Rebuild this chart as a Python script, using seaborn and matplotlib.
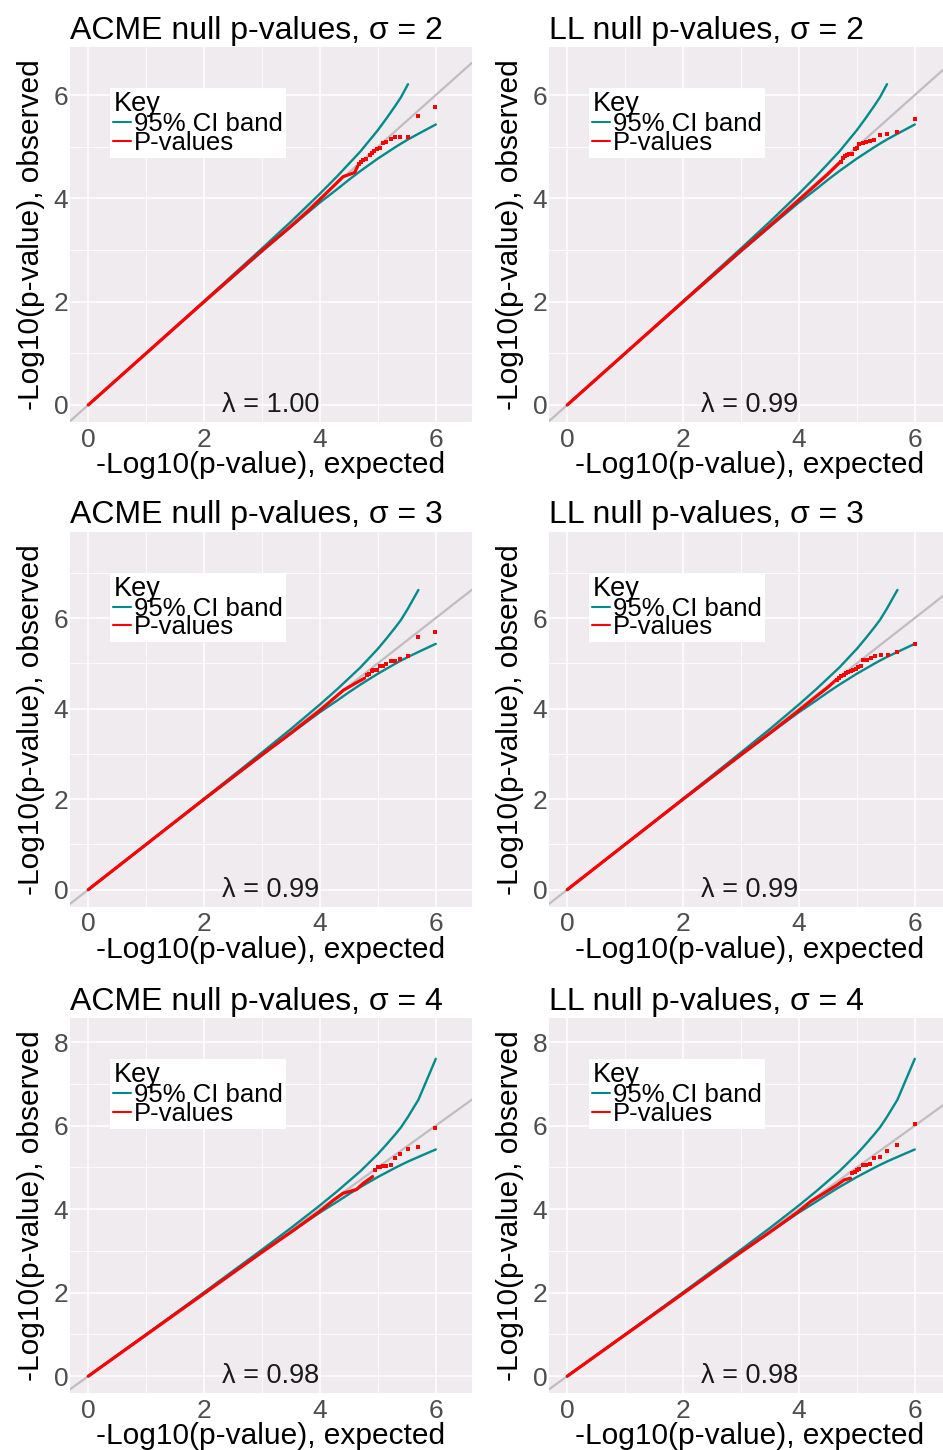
import numpy as np
import pandas as pd
import matplotlib
matplotlib.use("Agg")
import matplotlib.pyplot as plt
import seaborn as sns
from matplotlib.lines import Line2D
from matplotlib.ticker import MultipleLocator

# ---------------- data ----------------
# 95% CI band (expected, upper, lower)
ci_x     = [0.0, 1.0, 2.0, 3.0, 3.5, 4.0, 4.3, 4.5, 4.7, 5.0, 5.15, 5.3, 5.4, 5.52, 5.7, 6.0]
ci_upper = [0.0, 1.0, 2.01, 3.03, 3.55, 4.09, 4.43, 4.67, 4.91, 5.32, 5.55, 5.79, 5.96, 6.21, 6.62, 7.60]
ci_lower = [0.0, 1.0, 1.99, 2.97, 3.45, 3.92, 4.18, 4.36, 4.53, 4.77, 4.88, 4.99, 5.06, 5.14, 5.25, 5.43]
# upper band shown up to this expected value per sigma (rest falls outside the y-range)
ci_upper_end = {2: 5.52, 3: 5.7, 4: 6.0}

# ACME, sigma = 2
acme2_line_x = [0, 1, 2, 3, 3.5, 3.8, 4.0, 4.2, 4.4, 4.6, 4.65]
acme2_line_y = [0, 1, 2, 2.99, 3.46, 3.76, 3.98, 4.2, 4.42, 4.5, 4.62]
acme2_pts_x = [4.67, 4.71, 4.75, 4.80, 4.86, 4.90, 4.94, 4.99, 5.03, 5.09, 5.14, 5.22, 5.29, 5.39, 5.52, 5.69, 5.99]
acme2_pts_y = [4.66, 4.71, 4.74, 4.76, 4.83, 4.87, 4.92, 4.95, 4.98, 5.08, 5.10, 5.14, 5.19, 5.19, 5.19, 5.59, 5.77]
# LL, sigma = 2
ll2_line_x = [0, 1, 2, 3, 3.5, 4.0, 4.3, 4.5, 4.7]
ll2_line_y = [0, 1, 2, 2.99, 3.47, 3.97, 4.27, 4.47, 4.69]
ll2_pts_x = [4.72, 4.76, 4.80, 4.83, 4.87, 4.91, 4.97, 5.00, 5.04, 5.10, 5.15, 5.22, 5.30, 5.40, 5.52, 5.70, 6.00]
ll2_pts_y = [4.71, 4.79, 4.82, 4.84, 4.85, 4.86, 4.95, 4.97, 5.06, 5.08, 5.09, 5.11, 5.12, 5.23, 5.24, 5.28, 5.53]
# ACME, sigma = 3
acme3_line_x = [0, 1, 2, 3, 3.5, 4.0, 4.2, 4.4, 4.6, 4.77]
acme3_line_y = [0, 1, 2, 2.98, 3.46, 3.96, 4.18, 4.4, 4.55, 4.67]
acme3_pts_x = [4.81, 4.84, 4.89, 4.91, 4.95, 4.99, 5.04, 5.09, 5.14, 5.22, 5.29, 5.39, 5.52, 5.69, 5.99]
acme3_pts_y = [4.75, 4.76, 4.82, 4.86, 4.86, 4.86, 4.93, 4.93, 4.98, 5.06, 5.06, 5.09, 5.17, 5.57, 5.69]
# LL, sigma = 3
ll3_line_x = [0, 1, 2, 3, 3.5, 4.0, 4.3, 4.5, 4.63]
ll3_line_y = [0, 1, 2, 2.98, 3.46, 3.96, 4.27, 4.47, 4.62]
ll3_pts_x = [4.65, 4.69, 4.73, 4.78, 4.81, 4.85, 4.89, 4.93, 4.98, 5.02, 5.07, 5.11, 5.17, 5.24, 5.31, 5.41, 5.54, 5.70, 6.00]
ll3_pts_y = [4.64, 4.67, 4.71, 4.75, 4.78, 4.81, 4.83, 4.86, 4.87, 4.91, 4.93, 5.08, 5.08, 5.11, 5.17, 5.19, 5.19, 5.25, 5.42]
# ACME, sigma = 4
acme4_line_x = [0, 1, 2, 3, 3.5, 4.0, 4.22, 4.4, 4.63, 4.74, 4.91]
acme4_line_y = [0, 0.99, 1.98, 2.97, 3.45, 3.95, 4.2, 4.38, 4.47, 4.61, 4.78]
acme4_pts_x = [4.95, 5.00, 5.04, 5.09, 5.14, 5.22, 5.29, 5.39, 5.52, 5.69, 5.99]
acme4_pts_y = [4.93, 5.01, 5.02, 5.04, 5.04, 5.06, 5.22, 5.33, 5.44, 5.49, 5.95]
# LL, sigma = 4
ll4_line_x = [0, 1, 2, 3, 3.5, 4.0, 4.2, 4.43, 4.66, 4.78, 4.89]
ll4_line_y = [0, 0.99, 1.98, 2.97, 3.45, 3.95, 4.18, 4.38, 4.58, 4.70, 4.74]
ll4_pts_x = [4.92, 4.96, 5.00, 5.04, 5.10, 5.16, 5.22, 5.30, 5.40, 5.52, 5.70, 6.00]
ll4_pts_y = [4.86, 4.90, 4.93, 4.96, 5.05, 5.06, 5.07, 5.23, 5.26, 5.40, 5.54, 6.03]

lambdas = {("ACME", 2): "1.00", ("LL", 2): "0.99",
           ("ACME", 3): "0.99", ("LL", 3): "0.99",
           ("ACME", 4): "0.98", ("LL", 4): "0.98"}
methods = ["ACME", "LL"]
sigmas = [2, 3, 4]
x_ticks = [0, 2, 4, 6]
y_ticks = {2: [0, 2, 4, 6], 3: [0, 2, 4, 6], 4: [0, 2, 4, 6, 8]}
y_limits = {2: (-0.33, 6.93), 3: (-0.376, 7.906), 4: (-0.41, 8.57)}
x_limits = (-0.315, 6.625)

series = {
    ("ACME", 2): (acme2_line_x, acme2_line_y, acme2_pts_x, acme2_pts_y),
    ("LL", 2): (ll2_line_x, ll2_line_y, ll2_pts_x, ll2_pts_y),
    ("ACME", 3): (acme3_line_x, acme3_line_y, acme3_pts_x, acme3_pts_y),
    ("LL", 3): (ll3_line_x, ll3_line_y, ll3_pts_x, ll3_pts_y),
    ("ACME", 4): (acme4_line_x, acme4_line_y, acme4_pts_x, acme4_pts_y),
    ("LL", 4): (ll4_line_x, ll4_line_y, ll4_pts_x, ll4_pts_y),
}

# ---------------- style ----------------
sns.set_theme(style="darkgrid")
plt.rcParams["font.family"] = ["Liberation Sans", "DejaVu Sans"]
TEAL = "#008B8B"
RED = "#FF0000"
PANEL = "#EFEBEF"

W, H = 943, 1450
fig = plt.figure(figsize=(W / 100, H / 100), dpi=100)
fig.patch.set_facecolor("white")
col_left = [70, 549]
row_top = [47, 531.7, 1018.3]
pw, ph = 402, 375

ci_df = pd.DataFrame({"x": ci_x, "upper": ci_upper, "lower": ci_lower})

for r, sig in enumerate(sigmas):
    for c, meth in enumerate(methods):
        ax = fig.add_axes([col_left[c] / W, 1 - (row_top[r] + ph) / H, pw / W, ph / H])
        ax.set_facecolor(PANEL)
        for s in ax.spines.values():
            s.set_visible(False)
        ax.set_xlim(*x_limits)
        ax.set_ylim(*y_limits[sig])
        ax.set_xticks(x_ticks)
        ax.set_yticks(y_ticks[sig])
        ax.xaxis.set_minor_locator(MultipleLocator(1))
        ax.yaxis.set_minor_locator(MultipleLocator(1))
        ax.grid(which="major", color="white", lw=1.1)
        ax.grid(which="minor", color="white", lw=0.6)
        ax.set_axisbelow(True)
        ax.tick_params(which="both", length=0)
        ax.tick_params(axis="x", pad=4, labelsize=19, labelcolor="#4D4D4D")
        ax.tick_params(axis="y", pad=1.2, labelsize=19, labelcolor="#4D4D4D")

        ax.axline((0, 0), slope=1, color="#BEBEBE", lw=1.6, zorder=1)

        up = ci_df[ci_df["x"] <= ci_upper_end[sig] + 1e-9]
        sns.lineplot(data=up, x="x", y="upper", ax=ax, color=TEAL, lw=1.7,
                     estimator=None, sort=False, zorder=2)
        sns.lineplot(data=ci_df, x="x", y="lower", ax=ax, color=TEAL, lw=1.7,
                     estimator=None, sort=False, zorder=2)

        lx, ly, px, py = series[(meth, sig)]
        sns.lineplot(x=lx, y=ly, ax=ax, color=RED, lw=2.3, estimator=None,
                     sort=False, zorder=3)
        sns.scatterplot(x=px, y=py, ax=ax, color=RED, s=7, marker="s",
                        linewidth=0, zorder=4)

        ax.text(3.15, 0, "λ = " + lambdas[(meth, sig)], ha="center", va="center",
                fontsize=19.5, color="#1A1A1A")

        ax.set_title(f"{meth} null p-values, σ = {sig}", loc="left", fontsize=23,
                     pad=6, color="black")
        ax.set_xlabel("-Log10(p-value), expected", fontsize=21.5, labelpad=-0.5, color="black")
        ax.set_ylabel("-Log10(p-value), observed", fontsize=21.5, labelpad=6.5, color="black")

        handles = [Line2D([0], [0], color=TEAL, lw=1.5),
                   Line2D([0], [0], color=RED, lw=1.5)]
        leg = ax.legend(handles, ["95% CI band", "P-values"], title="Key",
                        loc="upper left", bbox_to_anchor=(0.1, 0.891),
                        frameon=True, fancybox=False, facecolor="white",
                        edgecolor="white", framealpha=1, borderpad=0.12,
                        labelspacing=-0.2, handlelength=0.7, handletextpad=0.12,
                        borderaxespad=0, fontsize=18.5, title_fontsize=19.5,
                        alignment="left")
        leg.get_frame().set_linewidth(0)
        leg.get_title().set_color("black")
        for t in leg.get_texts():
            t.set_color("black")

fig.savefig("out.png", dpi=100, facecolor="white")
